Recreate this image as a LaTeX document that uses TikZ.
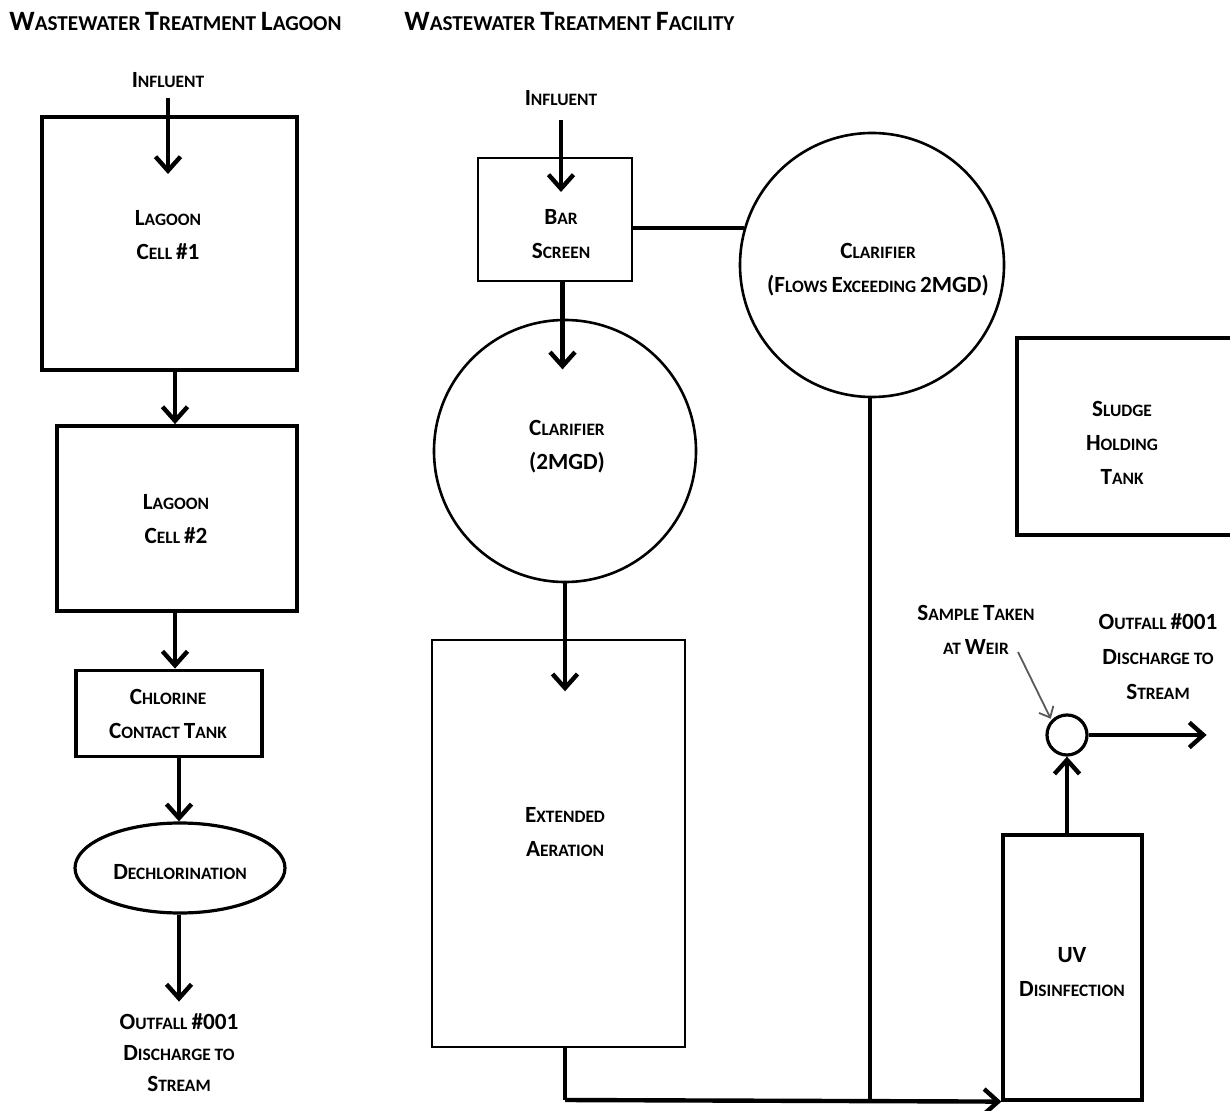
\documentclass[tikz,border=0pt]{standalone}
\usepackage{fontspec}
\setmainfont{Carlito}
\usetikzlibrary{arrows.meta,calc,shapes.geometric}
\newcommand\bigc[1]{{\fontsize{11.6}{17}\selectfont#1}}
\newcommand\Tb[1]{{\fontsize{14}{16}\selectfont#1}}
\begin{document}
\begin{tikzpicture}[x=0.5pt,y=-0.5pt,
  lbl/.style={font=\bfseries\fontsize{8.7}{17}\selectfont,align=center,inner sep=0pt},
  ttl/.style={font=\bfseries\fontsize{10.6}{16}\selectfont,inner sep=0pt,anchor=west},
  box/.style={draw,line width=1.9pt,rectangle,inner sep=0pt},
  thinbox/.style={draw,line width=1.4pt,rectangle,inner sep=0pt},
  tank/.style={draw,line width=1.3pt,circle,inner sep=0pt},
  arr/.style={line width=2.2pt,-{Straight Barb[length=7pt,width=12.5pt,line width=2.2pt]}},
  flow/.style={line width=2.2pt},
  note/.style={line width=0.9pt,gray!70!black,-{Straight Barb[length=4.5pt,width=8pt,line width=0.9pt]}}]
\useasboundingbox (0,0) rectangle (1230,1111);
% titles
\node[ttl] (t1) at (9,22) {\Tb{W}ASTEWATER \Tb{T}REATMENT \Tb{L}AGOON};
\node[ttl] (t2) at (404,22) {\Tb{W}ASTEWATER \Tb{T}REATMENT \Tb{F}ACILITY};
% ---------- lagoon ----------
\node[lbl] (inf1) at (168,80) {\bigc{I}NFLUENT};
\node[box,minimum width=127.5pt,minimum height=126.5pt] (lag1) at (169.5,243.5) {};
\node[lbl] (lag1t) at (168,235) {\bigc{L}AGOON\\\bigc{C}ELL \bigc{\#1}};
\node[box,minimum width=120pt,minimum height=92.5pt] (lag2) at (177,518.5) {};
\node[lbl] (lag2t) at (176,519) {\bigc{L}AGOON\\\bigc{C}ELL \bigc{\#2}};
\node[box,minimum width=93pt,minimum height=43pt] (chl) at (169,713.5) {};
\node[lbl] (chlt) at (168,714) {\bigc{C}HLORINE\\\bigc{C}ONTACT \bigc{T}ANK};
\node[draw,ellipse,line width=1.6pt,minimum width=105pt,minimum height=45pt,inner sep=0pt] (dech) at (180,868) {};
\node[lbl] (decht) at (180,872) {\bigc{D}ECHLORINATION};
\node[lbl,font=\bfseries\fontsize{8.7}{15.5}\selectfont] (out1) at (179,1053) {\bigc{O}UTFALL \bigc{\#001}\\\bigc{D}ISCHARGE TO\\\bigc{S}TREAM};
\draw[arr] ($(inf1.south)+(0,10)$) -- ++(0,76);
\draw[arr] ($(lag1.south)+(5.5,0)$) -- ($(lag2.north)+(-2,0)$);
\draw[arr] ($(lag2.south)+(-2,0)$) -- ($(chl.north)+(6,0)$);
\draw[arr] ($(chl.south)+(10,0)$) -- ($(dech.north)+(-1,0)$);
\draw[arr] ($(dech.south)+(-1,0)$) -- ($(out1.north)+(0,-12)$);
% ---------- facility ----------
\node[lbl] (inf2) at (561,98) {\bigc{I}NFLUENT};
\node[thinbox,minimum width=77pt,minimum height=61.5pt] (bar) at (555,219.5) {};
\node[lbl] (bart) at (561,234) {\bigc{B}AR\\\bigc{S}CREEN};
\node[tank,minimum size=131pt] (cl1) at (565,451) {};
\node[lbl] (cl1t) at (567,447) {\bigc{C}LARIFIER\\\bigc{(2MGD)}};
\node[thinbox,minimum width=126.5pt,minimum height=203.5pt] (aer) at (558.5,843.5) {};
\node[lbl] (aert) at (565,832) {\bigc{E}XTENDED\\\bigc{A}ERATION};
\node[tank,minimum size=132pt] (cl2) at (872,265) {};
\node[lbl] (cl2t) at (878,270) {\bigc{C}LARIFIER\\\bigc{(F}LOWS \bigc{E}XCEEDING \bigc{2MGD)}};
\node[box,line width=1.6pt,minimum width=107.5pt,minimum height=98.5pt] (sl) at (1124.5,436.5) {};
\node[lbl] (slt) at (1122,443) {\bigc{S}LUDGE\\\bigc{H}OLDING\\\bigc{T}ANK};
\node[box,line width=1.6pt,minimum width=69.5pt,minimum height=132.5pt] (uv) at (1072.5,967.5) {};
\node[lbl] (uvt) at (1072,972) {\bigc{UV}\\\bigc{D}ISINFECTION};
\node[draw,circle,line width=1.6pt,minimum size=20pt,inner sep=0pt] (weir) at (1067,735) {};
\node[lbl] (samp) at (976,630) {\bigc{S}AMPLE \bigc{T}AKEN\\AT \bigc{W}EIR};
\node[lbl,font=\bfseries\fontsize{8.7}{17.5}\selectfont] (out2) at (1158,657) {\bigc{O}UTFALL \bigc{\#001}\\\bigc{D}ISCHARGE TO\\\bigc{S}TREAM};
\coordinate (c1) at (565,1100);
\coordinate (j1) at (870,1100);
\coordinate (nt) at (1018,652);
\draw[arr] ($(inf2.south)+(0,14)$) -- ++(0,72);
\draw[flow] (bar.east |- cl2.164) -- (cl2.164);
\draw[arr] ($(bar.south)+(7.5,0)$) -- ++(0,87);
\draw[arr] (cl1.south) -- ++(0,108);
\draw[flow] ($(aer.south)+(6.5,0)$) -- (c1);
\draw[arr] (c1) -- (uv.south west);
\draw[flow] ($(cl2.south)+(-2,0)$) -- (j1);
\draw[arr] ($(uv.north)+(-5.5,0)$) -- (weir.south);
\draw[arr] (weir.east) -- ++(118,0);
\draw[note] (nt) -- ($(weir.north west)+(-1,-1)$);
\end{tikzpicture}
\end{document}
